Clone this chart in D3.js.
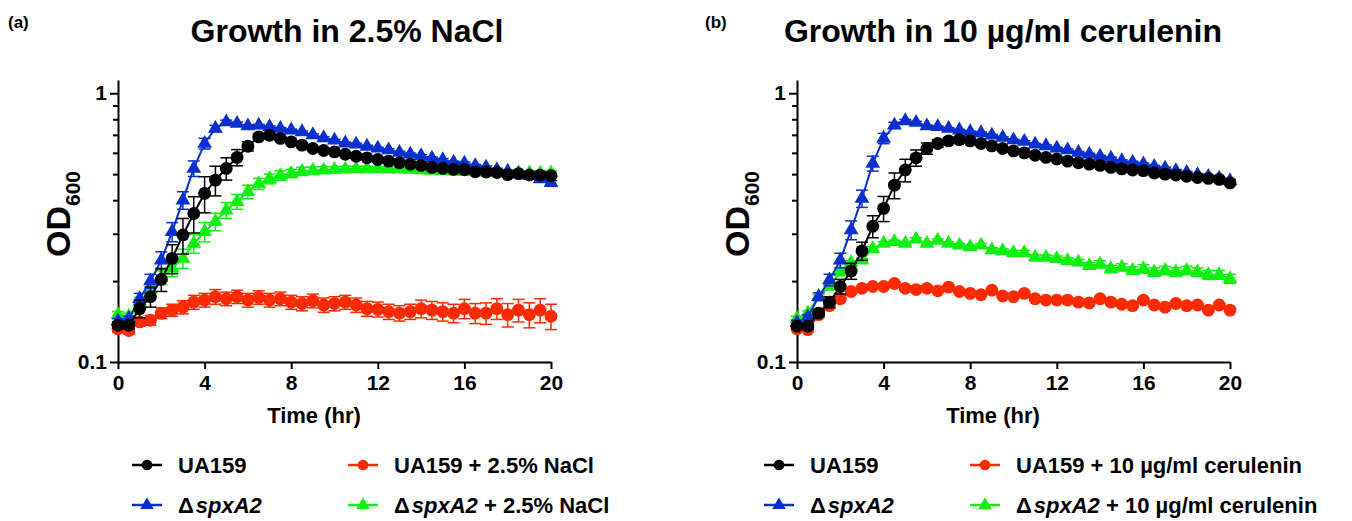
<!DOCTYPE html>
<html>
<head>
<meta charset="utf-8">
<script src="https://cdn.jsdelivr.net/npm/d3@7"></script>
<style>
  body { margin: 0; background: #fff; }
  svg { display: block; font-family: "Liberation Sans", Arial, sans-serif; font-weight: bold; }
</style>
</head>
<body>
<div id="chart"></div>
<script>
// sampling times (hr)
const times = [0, 0.5, 1, 1.5, 2, 2.5, 3, 3.5, 4, 4.5, 5, 5.5, 6, 6.5, 7, 7.5, 8, 8.5, 9, 9.5,
  10, 10.5, 11, 11.5, 12, 12.5, 13, 13.5, 14, 14.5, 15, 15.5, 16, 16.5, 17, 17.5, 18, 18.5, 19, 19.5, 20];

const xTicks = [0, 4, 8, 12, 16, 20];
const yTicks = [0.1, 1];
const yMinorTicks = [0.2, 0.3, 0.4, 0.5, 0.6, 0.7, 0.8, 0.9];

// panel (a): 2.5% NaCl
const naclWt = [0.137, 0.137, 0.158, 0.175, 0.203, 0.243, 0.297, 0.357, 0.424, 0.475, 0.525, 0.577, 0.635, 0.688, 0.698, 0.679, 0.659, 0.641, 0.623, 0.612,
  0.605, 0.593, 0.583, 0.575, 0.567, 0.559, 0.551, 0.545, 0.539, 0.530, 0.525, 0.521, 0.519, 0.510, 0.509, 0.507, 0.498, 0.502, 0.496, 0.496, 0.493];
const naclWtSd = [0.004, 0.004, 0.012, 0.015, 0.02, 0.03, 0.045, 0.055, 0.065, 0.06, 0.05, 0.04, 0.025, 0.015, 0.01, 0.008, 0.008, 0.007, 0.007, 0.006,
  0.006, 0.006, 0.006, 0.006, 0.006, 0.006, 0.006, 0.006, 0.006, 0.006, 0.006, 0.006, 0.006, 0.006, 0.006, 0.006, 0.006, 0.006, 0.006, 0.006, 0.006];
const naclMut = [0.142, 0.145, 0.172, 0.200, 0.239, 0.305, 0.400, 0.525, 0.650, 0.739, 0.782, 0.771, 0.755, 0.760, 0.750, 0.739, 0.729, 0.718, 0.700, 0.682,
  0.668, 0.652, 0.646, 0.634, 0.624, 0.615, 0.602, 0.593, 0.585, 0.573, 0.565, 0.553, 0.549, 0.537, 0.530, 0.519, 0.512, 0.500, 0.493, 0.480, 0.465];
const naclMutSd = [0.003, 0.003, 0.008, 0.012, 0.018, 0.025, 0.03, 0.035, 0.03, 0.02, 0.012, 0.01, 0.008, 0.006, 0.006, 0.006, 0.006, 0.006, 0.006, 0.006,
  0.006, 0.006, 0.006, 0.006, 0.006, 0.006, 0.006, 0.006, 0.006, 0.006, 0.006, 0.006, 0.006, 0.006, 0.006, 0.006, 0.006, 0.006, 0.006, 0.006, 0.008];
const naclWtTx = [0.133, 0.131, 0.141, 0.143, 0.152, 0.156, 0.160, 0.167, 0.170, 0.175, 0.172, 0.175, 0.170, 0.174, 0.170, 0.172, 0.167, 0.165, 0.169, 0.163,
  0.165, 0.167, 0.163, 0.158, 0.157, 0.154, 0.152, 0.154, 0.158, 0.156, 0.154, 0.152, 0.158, 0.152, 0.152, 0.158, 0.150, 0.156, 0.150, 0.156, 0.148];
const naclWtTxSd = [0.004, 0.004, 0.005, 0.006, 0.007, 0.008, 0.009, 0.01, 0.01, 0.011, 0.01, 0.01, 0.01, 0.01, 0.01, 0.01, 0.01, 0.01, 0.01, 0.01,
  0.01, 0.01, 0.01, 0.01, 0.01, 0.01, 0.01, 0.01, 0.012, 0.012, 0.012, 0.012, 0.013, 0.013, 0.014, 0.014, 0.015, 0.015, 0.016, 0.016, 0.016];
const naclMutTx = [0.150, 0.148, 0.168, 0.186, 0.206, 0.223, 0.243, 0.276, 0.305, 0.333, 0.367, 0.395, 0.430, 0.460, 0.480, 0.494, 0.503, 0.512, 0.516, 0.518,
  0.520, 0.522, 0.523, 0.524, 0.524, 0.523, 0.522, 0.520, 0.518, 0.516, 0.515, 0.513, 0.511, 0.510, 0.508, 0.507, 0.506, 0.506, 0.505, 0.505, 0.505];
const naclMutTxSd = [0.004, 0.004, 0.006, 0.01, 0.012, 0.015, 0.02, 0.022, 0.025, 0.025, 0.025, 0.025, 0.025, 0.022, 0.02, 0.02, 0.018, 0.018, 0.016, 0.015,
  0.014, 0.013, 0.012, 0.011, 0.01, 0.009, 0.009, 0.009, 0.009, 0.009, 0.009, 0.009, 0.009, 0.009, 0.009, 0.009, 0.009, 0.009, 0.009, 0.009, 0.009];

// panel (b): 10 ug/ml cerulenin
const cerWt = [0.136, 0.136, 0.152, 0.167, 0.191, 0.218, 0.259, 0.320, 0.373, 0.455, 0.518, 0.575, 0.623, 0.650, 0.665, 0.672, 0.665, 0.650, 0.637, 0.623,
  0.610, 0.600, 0.588, 0.577, 0.569, 0.559, 0.551, 0.545, 0.539, 0.530, 0.523, 0.518, 0.515, 0.505, 0.500, 0.496, 0.491, 0.486, 0.482, 0.478, 0.464];
const cerWtSd = [0.003, 0.003, 0.005, 0.008, 0.012, 0.015, 0.02, 0.03, 0.04, 0.05, 0.05, 0.04, 0.03, 0.02, 0.015, 0.01, 0.008, 0.006, 0.005, 0.005,
  0.005, 0.005, 0.005, 0.005, 0.005, 0.005, 0.005, 0.005, 0.005, 0.005, 0.005, 0.005, 0.005, 0.005, 0.005, 0.005, 0.005, 0.005, 0.005, 0.005, 0.005];
const cerMut = [0.140, 0.147, 0.175, 0.202, 0.239, 0.310, 0.406, 0.548, 0.679, 0.760, 0.789, 0.778, 0.755, 0.750, 0.739, 0.729, 0.718, 0.712, 0.698, 0.684,
  0.670, 0.661, 0.646, 0.637, 0.624, 0.615, 0.602, 0.593, 0.582, 0.573, 0.560, 0.553, 0.545, 0.534, 0.526, 0.515, 0.507, 0.497, 0.490, 0.482, 0.472];
const cerMutSd = [0.003, 0.003, 0.006, 0.01, 0.015, 0.025, 0.03, 0.035, 0.03, 0.02, 0.01, 0.008, 0.006, 0.005, 0.005, 0.005, 0.005, 0.005, 0.005, 0.005,
  0.005, 0.005, 0.005, 0.005, 0.005, 0.005, 0.005, 0.005, 0.005, 0.005, 0.005, 0.005, 0.005, 0.005, 0.005, 0.005, 0.005, 0.005, 0.005, 0.005, 0.005];
const cerWtTx = [0.133, 0.132, 0.150, 0.162, 0.172, 0.183, 0.188, 0.191, 0.191, 0.196, 0.188, 0.186, 0.188, 0.184, 0.190, 0.183, 0.180, 0.178, 0.185, 0.176,
  0.175, 0.180, 0.172, 0.170, 0.170, 0.170, 0.167, 0.166, 0.172, 0.167, 0.164, 0.162, 0.170, 0.163, 0.160, 0.165, 0.162, 0.163, 0.156, 0.163, 0.156];
const cerWtTxSd = [0.002, 0.002, 0.002, 0.002, 0.002, 0.002, 0.002, 0.002, 0.002, 0.002, 0.002, 0.002, 0.002, 0.002, 0.002, 0.002, 0.002, 0.002, 0.002, 0.002,
  0.002, 0.002, 0.002, 0.002, 0.002, 0.002, 0.002, 0.002, 0.002, 0.002, 0.002, 0.002, 0.002, 0.002, 0.002, 0.002, 0.002, 0.002, 0.002, 0.002, 0.002];
const cerMutTx = [0.145, 0.152, 0.175, 0.191, 0.216, 0.234, 0.239, 0.264, 0.276, 0.280, 0.276, 0.286, 0.276, 0.283, 0.276, 0.272, 0.268, 0.272, 0.261, 0.259,
  0.255, 0.255, 0.245, 0.245, 0.242, 0.238, 0.235, 0.228, 0.231, 0.222, 0.225, 0.219, 0.222, 0.216, 0.219, 0.216, 0.219, 0.216, 0.211, 0.211, 0.204];
const cerMutTxSd = [0.003, 0.003, 0.003, 0.003, 0.004, 0.004, 0.004, 0.004, 0.004, 0.004, 0.004, 0.004, 0.004, 0.004, 0.004, 0.004, 0.004, 0.004, 0.005, 0.005,
  0.005, 0.005, 0.005, 0.005, 0.006, 0.006, 0.006, 0.006, 0.007, 0.007, 0.007, 0.007, 0.008, 0.008, 0.008, 0.008, 0.008, 0.008, 0.008, 0.008, 0.008];

const colors = { wt: "#000000", mut: "#0a30cf", wtTx: "#ff2a00", mutTx: "#10f010" };

const W = 1352, H = 521;
const svg = d3.select("#chart").append("svg").attr("width", W).attr("height", H);

// draw one growth-curve panel
function drawPanel(opt) {
  const x = d3.scaleLinear().domain([0, 20]).range([opt.left, opt.left + 433]);
  const y = d3.scaleLog().domain([0.1, 1.12]).range([362, 80]);
  const g = svg.append("g");

  g.append("text").attr("x", opt.tagX).attr("y", 28).attr("font-size", 17).text(opt.tag);
  g.append("text").attr("x", opt.titleX).attr("y", 42).attr("text-anchor", "middle")
    .attr("font-size", 32).text(opt.title);

  // axes
  g.append("g").attr("transform", `translate(${opt.left},0)`)
    .call(d3.axisLeft(y).tickValues(yTicks).tickFormat(d3.format("")).tickSize(8).tickSizeOuter(0).tickPadding(3));
  g.append("g").attr("transform", `translate(${opt.left},0)`)
    .call(d3.axisLeft(y).tickValues(yMinorTicks).tickFormat("").tickSize(5).tickSizeOuter(0))
    .select(".domain").remove();
  g.append("g").attr("transform", "translate(0,362)")
    .call(d3.axisBottom(x).tickValues(xTicks).tickSize(7).tickSizeOuter(0).tickPadding(6));
  g.selectAll(".domain, .tick line").attr("stroke", "#000").attr("stroke-width", 2);
  g.selectAll(".tick text").attr("font-size", 21).attr("font-weight", "bold")
    .attr("font-family", "Liberation Sans, Arial, sans-serif").attr("fill", "#000");

  g.append("text").attr("x", opt.left + 196).attr("y", 423).attr("text-anchor", "middle")
    .attr("font-size", 22).text("Time (hr)");
  const yl = g.append("text").attr("transform", `translate(${opt.left - 48},${214}) rotate(-90)`)
    .attr("text-anchor", "middle").attr("font-size", 34);
  yl.append("tspan").text("OD");
  yl.append("tspan").attr("font-size", 21).attr("dy", 10).text("600");

  // series, drawn bottom to top
  opt.series.forEach(s => {
    const pts = times.map((t, i) => ({ t, v: s.values[i], sd: s.sd[i] }));
    const sg = g.append("g");
    sg.append("path").datum(pts)
      .attr("fill", "none").attr("stroke", s.color).attr("stroke-width", 2)
      .attr("d", d3.line().x(d => x(d.t)).y(d => y(d.v)));
    const eb = sg.selectAll("g.eb").data(pts).join("g").attr("class", "eb")
      .attr("stroke", s.color).attr("stroke-width", 1.5);
    eb.append("line").attr("x1", d => x(d.t)).attr("x2", d => x(d.t))
      .attr("y1", d => y(d.v + d.sd)).attr("y2", d => y(Math.max(d.v - d.sd, 0.1)));
    eb.append("line").attr("x1", d => x(d.t) - 6).attr("x2", d => x(d.t) + 6)
      .attr("y1", d => y(d.v + d.sd)).attr("y2", d => y(d.v + d.sd));
    eb.append("line").attr("x1", d => x(d.t) - 6).attr("x2", d => x(d.t) + 6)
      .attr("y1", d => y(d.v - d.sd)).attr("y2", d => y(d.v - d.sd));
    sg.selectAll("path.m").data(pts).join("path").attr("class", "m")
      .attr("transform", d => `translate(${x(d.t)},${y(d.v)})`)
      .attr("d", d3.symbol().type(s.shape).size(s.shape === d3.symbolCircle ? 130 : 95))
      .attr("fill", s.color);
  });

  // legend
  const lg = g.append("g");
  opt.legend.forEach(item => {
    const row = lg.append("g").attr("transform", `translate(${item.x},${item.y})`);
    row.append("line").attr("x1", 0).attr("x2", 30).attr("stroke", item.color).attr("stroke-width", 2.5);
    row.append("path").attr("transform", "translate(15,0)")
      .attr("d", d3.symbol().type(item.shape).size(item.shape === d3.symbolCircle ? 90 : 80))
      .attr("fill", item.color);
    const t = row.append("text").attr("x", 46).attr("y", 8).attr("font-size", 22);
    if (item.mutant) {
      t.append("tspan").text("\u0394");
      t.append("tspan").attr("font-style", "italic").attr("dx", 2).text("spxA2");
      if (item.suffix) t.append("tspan").text(" " + item.suffix);
    } else {
      t.text(item.label);
    }
  });
}

drawPanel({
  left: 118, tag: "(a)", tagX: 8, title: "Growth in 2.5% NaCl", titleX: 347,
  series: [
    { values: naclMutTx, sd: naclMutTxSd, color: colors.mutTx, shape: d3.symbolTriangle },
    { values: naclWtTx, sd: naclWtTxSd, color: colors.wtTx, shape: d3.symbolCircle },
    { values: naclMut, sd: naclMutSd, color: colors.mut, shape: d3.symbolTriangle },
    { values: naclWt, sd: naclWtSd, color: colors.wt, shape: d3.symbolCircle }
  ],
  legend: [
    { x: 132, y: 465, color: colors.wt, shape: d3.symbolCircle, label: "UA159" },
    { x: 348, y: 465, color: colors.wtTx, shape: d3.symbolCircle, label: "UA159 + 2.5% NaCl" },
    { x: 132, y: 505, color: colors.mut, shape: d3.symbolTriangle, mutant: true },
    { x: 348, y: 505, color: colors.mutTx, shape: d3.symbolTriangle, mutant: true, suffix: "+ 2.5% NaCl" }
  ]
});

drawPanel({
  left: 797, tag: "(b)", tagX: 705, title: "Growth in 10 \u00b5g/ml cerulenin", titleX: 1003,
  series: [
    { values: cerMutTx, sd: cerMutTxSd, color: colors.mutTx, shape: d3.symbolTriangle },
    { values: cerWtTx, sd: cerWtTxSd, color: colors.wtTx, shape: d3.symbolCircle },
    { values: cerMut, sd: cerMutSd, color: colors.mut, shape: d3.symbolTriangle },
    { values: cerWt, sd: cerWtSd, color: colors.wt, shape: d3.symbolCircle }
  ],
  legend: [
    { x: 764, y: 465, color: colors.wt, shape: d3.symbolCircle, label: "UA159" },
    { x: 970, y: 465, color: colors.wtTx, shape: d3.symbolCircle, label: "UA159 + 10 \u00b5g/ml cerulenin" },
    { x: 764, y: 505, color: colors.mut, shape: d3.symbolTriangle, mutant: true },
    { x: 970, y: 505, color: colors.mutTx, shape: d3.symbolTriangle, mutant: true, suffix: "+ 10 \u00b5g/ml cerulenin" }
  ]
});
</script>
</body>
</html>
